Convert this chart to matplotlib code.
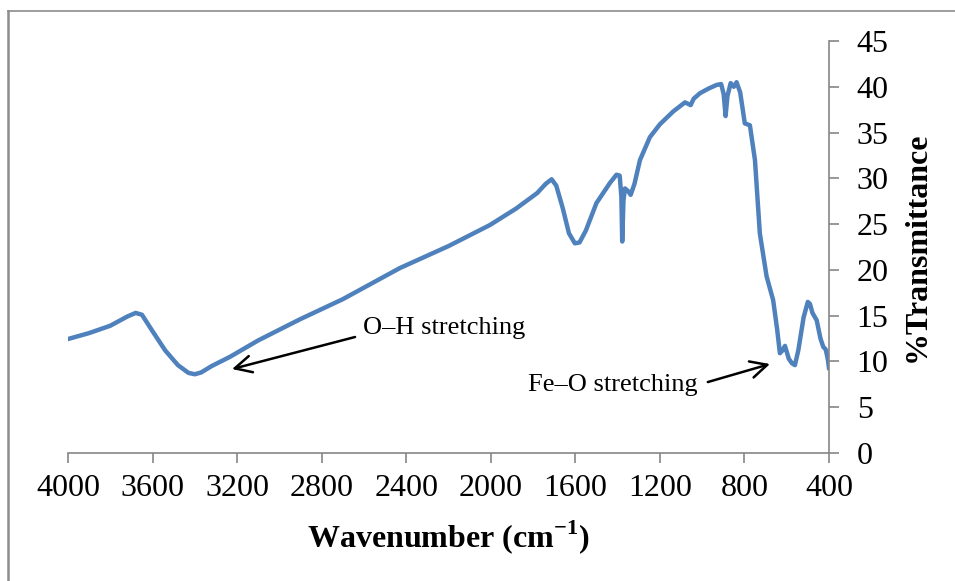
import matplotlib
matplotlib.use('Agg')
import matplotlib.pyplot as plt
from matplotlib.lines import Line2D

plt.rcParams['font.family'] = ['Liberation Serif', 'DejaVu Serif']

# FTIR spectrum
wavenumber = [4000, 3900, 3800, 3720, 3680, 3650, 3600, 3540, 3480, 3430, 3400, 3370,
              3320, 3234, 3100, 2903, 2700, 2430, 2200, 2004, 1880, 1780, 1740, 1712,
              1690, 1660, 1630, 1602, 1580, 1550, 1500, 1436, 1405, 1390, 1382, 1378,
              1372, 1365, 1350, 1338, 1320, 1294, 1247, 1200, 1137, 1081, 1054, 1040,
              1010, 970, 932, 910, 898, 889, 880, 865, 850, 837, 820, 798, 774, 750,
              727, 695, 664, 645, 632, 620, 608, 590, 575, 561, 545, 520, 500, 490,
              478, 458, 440, 427, 415, 405, 400]
transmittance = [12.45, 13.1, 13.9, 14.9, 15.3, 15.1, 13.3, 11.2, 9.6, 8.75, 8.6, 8.8,
                 9.5, 10.5, 12.3, 14.6, 16.8, 20.2, 22.6, 24.9, 26.7, 28.4, 29.4, 29.9,
                 29.2, 26.8, 24.0, 22.9, 23.0, 24.3, 27.3, 29.5, 30.4, 30.3, 28.0, 23.1,
                 27.6, 28.9, 28.6, 28.2, 29.4, 32.0, 34.5, 35.9, 37.3, 38.3, 38.0, 38.7,
                 39.3, 39.8, 40.2, 40.3, 39.2, 36.8, 39.0, 40.4, 40.0, 40.5, 39.4, 36.0,
                 35.8, 32.0, 24.0, 19.3, 16.7, 13.5, 10.9, 11.2, 11.7, 10.3, 9.8, 9.6,
                 11.2, 14.8, 16.5, 16.3, 15.3, 14.5, 12.5, 11.6, 11.3, 10.2, 9.3]

fig = plt.figure(figsize=(9.55, 5.81), dpi=100)
ax = fig.add_axes([0.0712, 0.2203, 0.7968, 0.7091])

ax.plot(wavenumber, transmittance, color='#4F81BD', lw=3.2, solid_joinstyle='round')

ax.set_xlim(4000, 400)
ax.set_ylim(0, 45)
ax.set_xticks(range(4000, 399, -400))
ax.set_yticks(range(0, 46, 5))

ax.yaxis.tick_right()
ax.yaxis.set_label_position('right')
for s in ['top', 'left']:
    ax.spines[s].set_visible(False)
for s in ['bottom', 'right']:
    ax.spines[s].set_color('#868686')
    ax.spines[s].set_linewidth(1.2)
ax.tick_params(axis='both', colors='#868686', length=7, width=1.2, direction='out',
               labelcolor='black', labelsize=23)
ax.tick_params(axis='x', pad=8)
ax.tick_params(axis='y', pad=13)

ax.set_xlabel('Wavenumber (cm$^{\\mathregular{-1}}$)', fontsize=23, fontweight='bold', labelpad=11)
ax.set_ylabel('%Transmittance', fontsize=23, fontweight='bold', labelpad=10)

# annotations: arrows and labels
arrow = dict(arrowstyle='->', color='black', lw=1.8, mutation_scale=30, shrinkA=0, shrinkB=0)
ax.annotate('', xy=(3224, 9.17), xytext=(2642, 12.67), arrowprops=arrow)
ax.text(2605, 13.65, 'O\u2013H stretching', fontsize=19, ha='left', va='center')
ax.annotate('', xy=(679, 9.72), xytext=(973, 7.75), arrowprops=arrow)
ax.text(1020, 7.43, 'Fe\u2013O stretching', fontsize=19, ha='right', va='center')

# light frame at the top and left edge
fig.add_artist(Line2D([0.0079, 0.0079], [0, 0.981], color='#8c8c8c', lw=1.8))
fig.add_artist(Line2D([0.0079, 1.0], [0.981, 0.981], color='#8c8c8c', lw=1.2))

fig.savefig('out.png', dpi=100)
